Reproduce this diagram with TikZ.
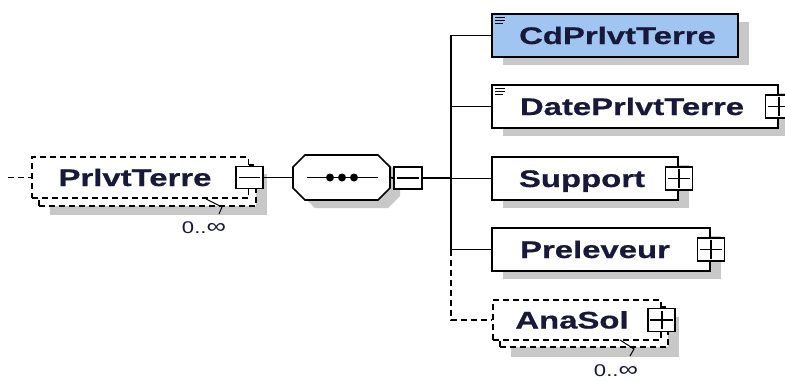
\documentclass[tikz,border=0pt]{standalone}
\usepackage{fontspec}
\setmainfont{Liberation Sans}
\newfontfamily\lblfont[FakeStretch=1.37,BoldFeatures={FakeBold=0.6}]{Liberation Sans}
\newfontfamily\multfont[FakeStretch=1.3]{Liberation Sans}
\usetikzlibrary{shadows}
\definecolor{txt}{RGB}{24,24,58}
\definecolor{shd}{RGB}{200,200,200}
\definecolor{cdfill}{RGB}{160,197,240}
\begin{document}
\begin{tikzpicture}[x=1pt,y=-1pt,
  elem/.style={draw=black,line width=1.7pt,fill=white,inner sep=0pt,minimum height=43pt,
    drop shadow={shadow xshift=11pt,shadow yshift=-8pt,fill=shd,opacity=1}},
  dbox/.style={draw=black,line width=1.5pt,fill=white,dash pattern=on 6pt off 4pt,inner sep=0pt,minimum height=41pt},
  lbl/.style={text=txt,font=\lblfont\bfseries\fontsize{24}{27}\selectfont,inner sep=0pt,anchor=base},
  mult/.style={text=txt,font=\multfont\fontsize{17}{20}\selectfont,inner sep=0pt},
  btn/.style={draw=black,line width=1.6pt,fill=white,minimum width=27pt,minimum height=23pt,inner sep=0pt},
  sign/.style={line width=1.6pt},
  conn/.style={line width=1.8pt},
  dconn/.style={line width=1.8pt,dash pattern=on 6pt off 4pt},
  icon/.style={line width=1.1pt}]

\useasboundingbox (0,0) rectangle (785,381);
\clip (0,0) rectangle (785,381);

% ---------- PrlvtTerre (repeated, optional) ----------
\fill[shd] (50,174) rectangle (267,215);
\node[dbox,minimum width=217pt] (prlB) at (147.5,185.5) {};
\node[dbox,minimum width=216.5pt] (prl) at (140.25,177.5) {};
\node[lbl] (prlT) at (135,186) {PrlvtTerre};
\node[btn,minimum height=22pt] (prlBtn) at (prl.east) {};
\draw[sign] ([xshift=4pt]prlBtn.west) -- ([xshift=-4pt]prlBtn.east);
\coordinate (in) at (8,177.5);
\draw[dconn] (in) -- (prl.west);
\node[mult] (prlM) at (204,228) {0..{\fontsize{21}{20}\selectfont ∞}};
\coordinate (prlS1) at (206,199);
\coordinate (prlS2) at (222,207);
\coordinate (prlS3) at (219,214);
\draw[line width=1pt] (prlS1) -- (prlS2) -- (prlS3);

% ---------- sequence compositor ----------
\coordinate (seqW) at (293,177.5);
\coordinate (seqE) at (390,177.5);
\fill[shd,shift={(10,8)}] (293,167) -- (305,155) -- (378,155) -- (390,167) -- (390,188) -- (378,200) -- (305,200) -- (293,188) -- cycle;
\draw[line width=1.7pt,fill=white] (293,167) -- (305,155) -- (378,155) -- (390,167) -- (390,188) -- (378,200) -- (305,200) -- (293,188) -- cycle;
\coordinate (seqL) at (307,177.5);
\coordinate (seqR) at (378,177.5);
\draw[conn] (seqL) -- (seqR);
\fill (330,177.5) circle (4pt) (342,177.5) circle (4pt) (354,177.5) circle (4pt);
\node[btn,minimum width=28pt,minimum height=22pt] (seqBtn) at (408,178) {};
\draw[sign] ([xshift=4pt]seqBtn.west) -- ([xshift=-4pt]seqBtn.east);
\draw[conn] (prlBtn.east) -- (seqW);
\draw[conn] (seqE) -- (seqBtn.west);

% ---------- children ----------
\node[elem,fill=cdfill,minimum width=246pt] (cd) at (615,35.5) {};
\node[lbl] (cdT) at (617.5,44) {CdPrlvtTerre};
\draw[icon] ([shift={(4,4)}]cd.north west) -- ++(10,0);
\draw[icon] ([shift={(4,7)}]cd.north west) -- ++(10,0);
\draw[icon] ([shift={(4,10)}]cd.north west) -- ++(8,0);

\node[elem,minimum width=286pt] (date) at (635,106.5) {};
\node[lbl] (dateT) at (632,115) {DatePrlvtTerre};
\draw[icon] ([shift={(4,4)}]date.north west) -- ++(10,0);
\draw[icon] ([shift={(4,7)}]date.north west) -- ++(10,0);
\draw[icon] ([shift={(4,10)}]date.north west) -- ++(8,0);
\node[btn] (dateBtn) at (date.east) {};
\draw[sign] ([xshift=3pt]dateBtn.west) -- ([xshift=-3pt]dateBtn.east);
\draw[sign] ([yshift=-3pt]dateBtn.north) -- ([yshift=3pt]dateBtn.south);

\node[elem,minimum width=186pt] (sup) at (585,178.5) {};
\node[lbl] (supT) at (582,187) {Support};
\node[btn] (supBtn) at (sup.east) {};
\draw[sign] ([xshift=3pt]supBtn.west) -- ([xshift=-3pt]supBtn.east);
\draw[sign] ([yshift=-3pt]supBtn.north) -- ([yshift=3pt]supBtn.south);

\node[elem,minimum width=218pt] (pre) at (601,249.5) {};
\node[lbl] (preT) at (595,258) {Preleveur};
\node[btn] (preBtn) at (pre.east) {};
\draw[sign] ([xshift=3pt]preBtn.west) -- ([xshift=-3pt]preBtn.east);
\draw[sign] ([yshift=-3pt]preBtn.north) -- ([yshift=3pt]preBtn.south);

% AnaSol (repeated, optional)
\fill[shd] (511,317) rectangle (679,357);
\node[dbox,minimum width=168pt,minimum height=40pt] (anaB) at (584,327) {};
\node[dbox,minimum width=168pt,minimum height=40pt] (ana) at (577,320) {};
\node[lbl] (anaT) at (572,328.5) {AnaSol};
\node[btn] (anaBtn) at (ana.east) {};
\draw[sign] ([xshift=3pt]anaBtn.west) -- ([xshift=-3pt]anaBtn.east);
\draw[sign] ([yshift=-3pt]anaBtn.north) -- ([yshift=3pt]anaBtn.south);
\node[mult] (anaM) at (616,371) {0..{\fontsize{21}{20}\selectfont ∞}};
\coordinate (anaS1) at (620,340);
\coordinate (anaS2) at (634,349);
\coordinate (anaS3) at (630,356);
\draw[line width=1pt] (anaS1) -- (anaS2) -- (anaS3);

% ---------- bus ----------
\coordinate (bx) at (451,0);
\draw[conn] (seqBtn.east) -- (seqBtn.east -| bx);
\draw[conn] (cd.west) -- (cd.west -| bx) -- (pre.west -| bx) -- (pre.west);
\draw[conn] (date.west) -- (date.west -| bx);
\draw[conn] (sup.west) -- (sup.west -| bx);
\draw[dconn] (pre.west -| bx) |- (ana.west);
\end{tikzpicture}
\end{document}
